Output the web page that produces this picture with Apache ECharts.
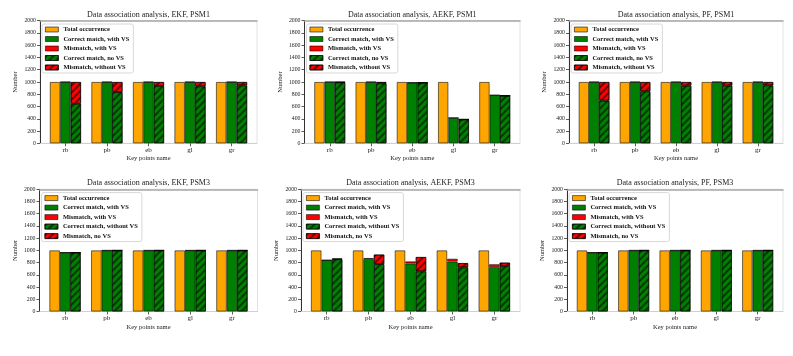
<!DOCTYPE html>
<html><head><meta charset="utf-8">
<script src="https://cdn.jsdelivr.net/npm/echarts@6/dist/echarts.min.js"></script>
<style>html,body{margin:0;padding:0;background:#fff}#c{width:793px;height:356px}</style>
</head><body><div id="c"></div>
<script>
const categories = ['rb','pb','eb','gl','gr'];
const yTicks = [0,200,400,600,800,1000,1200,1400,1600,1800,2000];
const titles = [
  'Data association analysis, EKF, PSM1',
  'Data association analysis, AEKF, PSM1',
  'Data association analysis, PF, PSM1',
  'Data association analysis, EKF, PSM3',
  'Data association analysis, AEKF, PSM3',
  'Data association analysis, PF, PSM3'
];
const namesTop = ['Total occurrence','Correct match, with VS','Mismatch, with VS','Correct match, no VS','Mismatch, without VS'];
const namesBottom = ['Total occurrence','Correct match, with VS','Mismatch, with VS','Correct match, without VS','Mismatch, no VS'];

// EKF PSM1
const ekf1Total   = [1000,1000,1000,1000,1000];
const ekf1CorrVS  = [1000,1000,1000,1000,1000];
const ekf1MisVS   = [0,0,0,0,0];
const ekf1CorrNo  = [645,835,935,930,945];
const ekf1MisNo   = [355,165,65,70,55];
// AEKF PSM1
const aekf1Total  = [1000,1000,1000,1000,1000];
const aekf1CorrVS = [1000,1000,990,415,785];
const aekf1MisVS  = [0,0,0,0,0];
const aekf1CorrNo = [995,980,990,390,778];
const aekf1MisNo  = [5,20,0,0,0];
// PF PSM1
const pf1Total    = [1000,1000,1000,1000,1000];
const pf1CorrVS   = [1000,1000,1000,1000,1000];
const pf1MisVS    = [0,0,0,0,0];
const pf1CorrNo   = [695,848,940,940,945];
const pf1MisNo    = [305,152,60,60,55];
// EKF PSM3
const ekf3Total   = [1000,1000,1000,1000,1000];
const ekf3CorrVS  = [965,1000,1000,1000,1000];
const ekf3MisVS   = [0,0,0,0,0];
const ekf3CorrNo  = [965,1000,1000,1000,1000];
const ekf3MisNo   = [0,0,0,0,0];
// AEKF PSM3
const aekf3Total  = [1000,1000,1000,1000,1000];
const aekf3CorrVS = [840,860,785,817,725];
const aekf3MisVS  = [0,15,35,46,48];
const aekf3CorrNo = [855,775,657,722,741];
const aekf3MisNo  = [10,157,235,71,59];
// PF PSM3
const pf3Total    = [1000,1000,1000,1000,1000];
const pf3CorrVS   = [965,1000,1000,1000,1000];
const pf3MisVS    = [0,0,0,0,0];
const pf3CorrNo   = [965,1000,1000,1000,1000];
const pf3MisNo    = [0,0,0,0,0];

const panels = [
  [ekf1Total, ekf1CorrVS, ekf1MisVS, ekf1CorrNo, ekf1MisNo],
  [aekf1Total, aekf1CorrVS, aekf1MisVS, aekf1CorrNo, aekf1MisNo],
  [pf1Total, pf1CorrVS, pf1MisVS, pf1CorrNo, pf1MisNo],
  [ekf3Total, ekf3CorrVS, ekf3MisVS, ekf3CorrNo, ekf3MisNo],
  [aekf3Total, aekf3CorrVS, aekf3MisVS, aekf3CorrNo, aekf3MisNo],
  [pf3Total, pf3CorrVS, pf3MisVS, pf3CorrNo, pf3MisNo]
];

// layout boxes [left, right, top, bottom] in px
const boxes = [
  [40, 257, 20.7, 143.3],
  [304.5, 520, 20.7, 143.3],
  [569, 783, 20.7, 143.3],
  [39.5, 257.5, 189.3, 311.5],
  [301, 520, 189.3, 311.5],
  [567, 783, 189.3, 311.5]
];

const FONT = 'Liberation Serif';
const XMIN = -0.6125, XMAX = 4.6125;
const colors = ['#FFA500','#008000','#FF0000','#008000','#FF0000'];
const offsets = [-0.25, 0, 0, 0.25, 0.25];
const hatch = {symbol:'rect', symbolSize:1, dashArrayX:[1,0], dashArrayY:[1.2,2.6], rotation:-Math.PI/4, color:'rgba(0,0,0,0.55)'};

const grid=[], xAxis=[], yAxis=[], series=[], legend=[], title=[];
boxes.forEach((b, g) => {
  const [l, r, t, bt] = b;
  const W = r - l;
  grid.push({left:l, top:t, width:W, height:bt-t, show:true, borderColor:'#e2e2e2', borderWidth:1, backgroundColor:'transparent'});
  xAxis.push({gridIndex:g, type:'value', min:XMIN, max:XMAX, splitLine:{show:false},
    name:'Key points name', nameLocation:'middle', nameGap: g<3 ? 11 : 12,
    nameTextStyle:{fontFamily:FONT, fontSize:6.5, color:'#222'},
    axisLine:{show:true, onZero:false, lineStyle:{color:'#d0d0d0', width:1}},
    axisTick:{show:true, length:3, customValues:[0,1,2,3,4], lineStyle:{color:'#333', width:0.8}},
    axisLabel:{customValues:[0,1,2,3,4], formatter:v=>categories[Math.round(v)], fontFamily:FONT, fontSize:7, color:'#222', margin:3}
  });
  xAxis.push({gridIndex:g, type:'value', position:'top', min:XMIN, max:XMAX, splitLine:{show:false},
    axisLine:{show:true, onZero:false, lineStyle:{color:'#a8a8a8', width:1.5}}, axisTick:{show:false}, axisLabel:{show:false}});
  yAxis.push({gridIndex:g, type:'value', min:0, max:2000, interval:200, splitLine:{show:false},
    name:'Number', nameLocation:'middle', nameGap:21, nameRotate:90,
    nameTextStyle:{fontFamily:FONT, fontSize:6.5, color:'#222'},
    axisLine:{show:true, onZero:false, lineStyle:{color:'#333', width:1}},
    axisTick:{show:true, length:3, lineStyle:{color:'#333', width:0.8}},
    axisLabel:{fontFamily:FONT, fontSize:5.8, color:'#222', margin:4, formatter:v=>String(v)}
  });
  title.push({text:titles[g], left:l + W/2, top: g<3 ? 11 : 179, textAlign:'center', padding:0,
    textStyle:{fontFamily:FONT, fontSize:8, fontWeight:'normal', color:'#222'}});
  const names = g<3 ? namesTop : namesBottom;
  const bw = 0.25 * W / (XMAX - XMIN);
  panels[g].forEach((vals, k) => {
    const s = {
      type:'bar', name:names[k], xAxisIndex:2*g, yAxisIndex:g,
      barWidth:bw, barGap:'-100%',
      dimensions:['value','pos'],
      encode:{x:'pos', y:'value'},
      data: vals.map((v,i)=>[v, i+offsets[k]]),
      itemStyle:{color:colors[k], borderColor:'rgba(0,0,0,0.7)', borderWidth:0.8},
      emphasis:{disabled:true}, silent:true, animation:false
    };
    if (k===1||k===2) s.stack = 'vs'+g;
    if (k===3||k===4) { s.stack = 'nv'+g; s.itemStyle.decal = hatch; }
    series.push(s);
  });
  legend.push({left:l+2, top:t+3.3, orient:'vertical', data:names.map(n=>({name:n, icon:'rect'})),
    itemWidth:13, itemHeight:5, itemGap:2.5, padding:[2,4,2,3],
    backgroundColor:'#fff', borderColor:'#d8d8d8', borderWidth:1, borderRadius:2,
    textStyle:{fontFamily:FONT, fontSize:6.5, fontWeight:'bold', color:'#111', padding:[0,0,0,0]},
    itemStyle:{borderColor:'rgba(0,0,0,0.7)', borderWidth:0.8},
    selectedMode:false});
});

const chart = echarts.init(document.getElementById('c'), null, {renderer:'canvas'});
chart.setOption({animation:false, aria:{enabled:false}, title, grid, xAxis, yAxis, legend, series});
</script></body></html>
